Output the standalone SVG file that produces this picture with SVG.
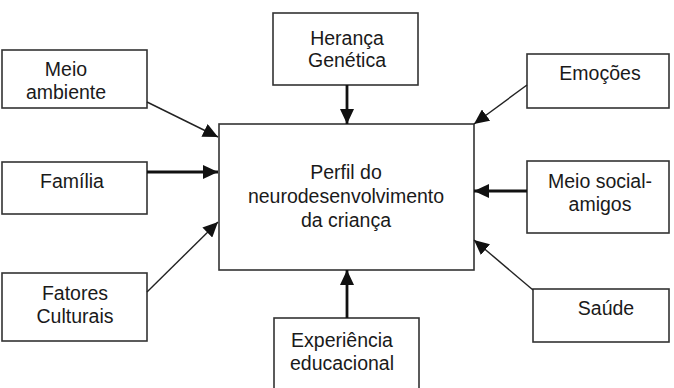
<svg xmlns="http://www.w3.org/2000/svg" width="674" height="388" viewBox="0 0 674 388">
<style>
.box{fill:#fff;stroke:#333;stroke-width:1.6}
.t{font-family:"Liberation Sans",Arial,sans-serif;font-size:19.5px;fill:#1a1a1a;text-anchor:middle}
.thin{stroke:#222;stroke-width:1.4;fill:none}
.thick{stroke:#111;stroke-width:2.8;fill:none}
</style>
<defs>
<marker id="ah" markerUnits="userSpaceOnUse" markerWidth="16" markerHeight="14" refX="15" refY="7" orient="auto">
<path d="M0,0 L15,7 L0,14 Z" fill="#111"/>
</marker>
</defs>
<rect width="674" height="388" fill="#fff"/>
<g id="center">
<rect class="box" x="219" y="124" width="255" height="146"/>
<text class="t" x="346" y="179">Perfil do</text>
<text class="t" x="346" y="203">neurodesenvolvimento</text>
<text class="t" x="346" y="227">da criança</text>
</g>
<g id="heranca">
<rect class="box" x="273" y="13" width="145" height="72"/>
<text class="t" x="347" y="45">Herança</text>
<text class="t" x="347" y="67">Genética</text>
</g>
<g id="meio-ambiente">
<rect class="box" x="2" y="50" width="145" height="58"/>
<text class="t" x="66" y="76">Meio</text>
<text class="t" x="66" y="99">ambiente</text>
</g>
<g id="familia">
<rect class="box" x="2" y="162" width="145" height="52"/>
<text class="t" x="72" y="188">Família</text>
</g>
<g id="fatores">
<rect class="box" x="2" y="273" width="145" height="68"/>
<text class="t" x="75" y="300">Fatores</text>
<text class="t" x="75" y="323">Culturais</text>
</g>
<g id="experiencia">
<rect class="box" x="274" y="318" width="145" height="80"/>
<text class="t" x="342" y="347">Experiência</text>
<text class="t" x="342" y="370">educacional</text>
</g>
<g id="emocoes">
<rect class="box" x="527" y="54" width="142" height="54"/>
<text class="t" x="600" y="80">Emoções</text>
</g>
<g id="meio-social">
<rect class="box" x="527" y="161" width="142" height="72"/>
<text class="t" x="600" y="188">Meio social-</text>
<text class="t" x="600" y="211">amigos</text>
</g>
<g id="saude">
<rect class="box" x="533" y="289" width="136" height="53"/>
<text class="t" x="606" y="315">Saúde</text>
</g>
<g id="connectors">
<line class="thin" x1="147" y1="102" x2="218" y2="137" marker-end="url(#ah)"/>
<line class="thick" x1="147" y1="172" x2="218" y2="172" marker-end="url(#ah)"/>
<line class="thin" x1="147" y1="292" x2="218" y2="222" marker-end="url(#ah)"/>
<line class="thick" x1="347" y1="85" x2="347" y2="124" marker-end="url(#ah)"/>
<line class="thick" x1="347" y1="318" x2="347" y2="270" marker-end="url(#ah)"/>
<line class="thin" x1="527" y1="85" x2="474" y2="124" marker-end="url(#ah)"/>
<line class="thick" x1="527" y1="191" x2="474" y2="191" marker-end="url(#ah)"/>
<line class="thin" x1="533" y1="290" x2="474" y2="240" marker-end="url(#ah)"/>
</g>
</svg>
